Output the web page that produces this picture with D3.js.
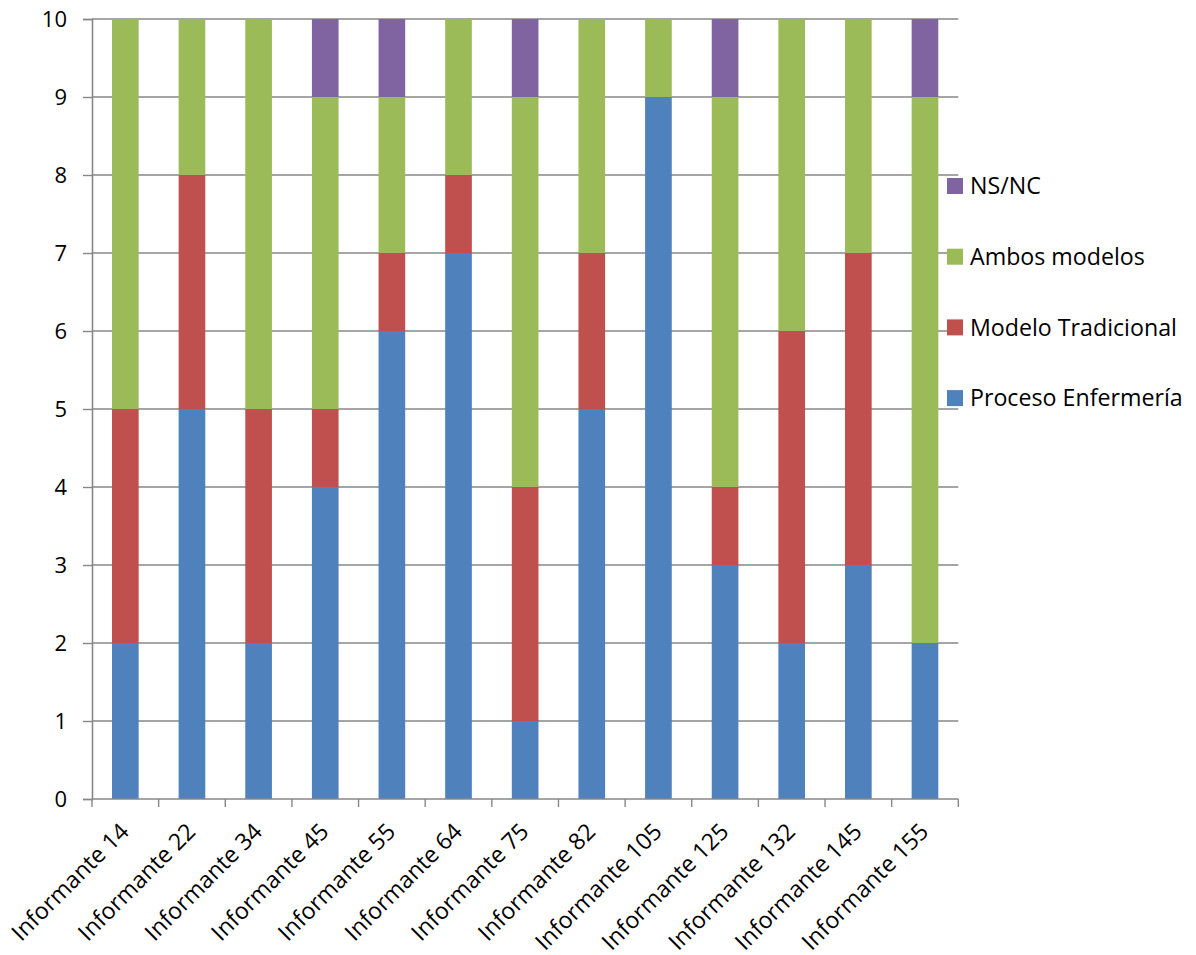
<!DOCTYPE html>
<html>
<head>
<meta charset="utf-8">
<script src="https://cdn.jsdelivr.net/npm/d3@7"></script>
<style>
  html, body { margin: 0; padding: 0; background: #fff; }
  svg text { font-family: "Open Sans", "Liberation Sans", sans-serif; fill: #000; }
</style>
</head>
<body>
<svg id="chart" width="1196" height="955"></svg>
<script>
// Categories (informants) and stacked series values
const categories = ["Informante 14", "Informante 22", "Informante 34", "Informante 45", "Informante 55",
  "Informante 64", "Informante 75", "Informante 82", "Informante 105", "Informante 125",
  "Informante 132", "Informante 145", "Informante 155"];
const procesoEnfermeria = [2, 5, 2, 4, 6, 7, 1, 5, 9, 3, 2, 3, 2];
const modeloTradicional = [3, 3, 3, 1, 1, 1, 3, 2, 0, 1, 4, 4, 0];
const ambosModelos      = [5, 2, 5, 4, 2, 2, 5, 3, 1, 5, 4, 3, 7];
const nsNc              = [0, 0, 0, 1, 1, 0, 1, 0, 0, 1, 0, 0, 1];
const seriesNames = ["Proceso Enfermería", "Modelo Tradicional", "Ambos modelos", "NS/NC"];
const seriesColors = ["#4F81BD", "#C0504D", "#9BBB59", "#8064A2"];
const yTicks = [0, 1, 2, 3, 4, 5, 6, 7, 8, 9, 10];

const seriesValues = [procesoEnfermeria, modeloTradicional, ambosModelos, nsNc];
const rows = categories.map((c, i) => {
  const r = { cat: c };
  seriesNames.forEach((s, k) => { r[s] = seriesValues[k][i]; });
  return r;
});
const stacked = d3.stack().keys(seriesNames)(rows);

const svg = d3.select("#chart");
const plotLeft = 92, plotRight = 958.3, plotTop = 19, plotBottom = 799;

const x = d3.scaleBand().domain(categories).range([plotLeft, plotRight]).paddingInner(0.6).paddingOuter(0.3);
const xTickPos = d3.scaleLinear().domain([0, categories.length]).range([plotLeft, plotRight]);
const y = d3.scaleLinear().domain([0, 10]).range([plotBottom, plotTop]);

const gridColor = "#878787";

// horizontal gridlines
svg.append("g")
  .selectAll("line")
  .data(yTicks.filter(t => t > 0))
  .join("line")
  .attr("x1", plotLeft).attr("x2", plotRight)
  .attr("y1", d => y(d)).attr("y2", d => y(d))
  .attr("stroke", gridColor).attr("stroke-width", 1.4);

// stacked bars
svg.append("g")
  .selectAll("g")
  .data(stacked)
  .join("g")
  .attr("fill", (d, i) => seriesColors[i])
  .selectAll("rect")
  .data(d => d)
  .join("rect")
  .attr("x", d => x(d.data.cat))
  .attr("width", x.bandwidth())
  .attr("y", d => y(d[1]))
  .attr("height", d => y(d[0]) - y(d[1]));

// y axis
const yAxis = d3.axisLeft(y).tickValues(yTicks).tickSize(9).tickPadding(16).tickFormat(d3.format("d"));
const gy = svg.append("g").attr("transform", `translate(${plotLeft},0)`).call(yAxis);
gy.select(".domain").attr("stroke", gridColor).attr("stroke-width", 1.6);
gy.selectAll(".tick line").attr("stroke", gridColor).attr("stroke-width", 1.4);
gy.selectAll(".tick text").style("font-size", "22px").attr("fill", "#000");

// x axis: category boundary ticks
const boundaries = d3.range(categories.length + 1);
svg.append("line")
  .attr("x1", plotLeft).attr("x2", plotRight)
  .attr("y1", plotBottom).attr("y2", plotBottom)
  .attr("stroke", gridColor).attr("stroke-width", 1.6);
svg.append("g")
  .selectAll("line")
  .data(boundaries)
  .join("line")
  .attr("x1", d => xTickPos(d)).attr("x2", d => xTickPos(d))
  .attr("y1", plotBottom).attr("y2", plotBottom + 8)
  .attr("stroke", gridColor).attr("stroke-width", 1.4);

// rotated category labels, baseline ending just right of each bar centre
svg.append("g")
  .selectAll("text")
  .data(categories)
  .join("text")
  .attr("transform", d => `translate(${x(d) + x.bandwidth() / 2 + 5},${plotBottom + 34}) rotate(-45)`)
  .attr("text-anchor", "end")
  .style("font-size", "23.2px")
  .text(d => d);

// legend (reverse order, top to bottom)
const legendItems = seriesNames.map((s, i) => ({ name: s, color: seriesColors[i] })).reverse();
const lg = svg.append("g").selectAll("g")
  .data(legendItems)
  .join("g")
  .attr("transform", (d, i) => `translate(947,${178 + i * 70.7})`);
lg.append("rect").attr("width", 16).attr("height", 16).attr("fill", d => d.color);
lg.append("text").attr("x", 23).attr("y", 8).attr("dy", "0.35em")
  .style("font-size", "23.2px").text(d => d.name);
</script>
</body>
</html>
